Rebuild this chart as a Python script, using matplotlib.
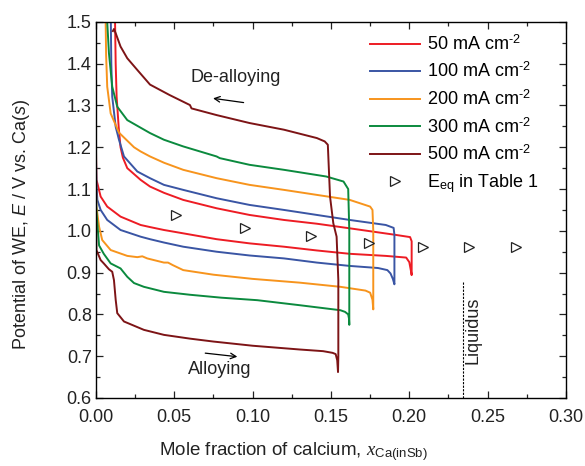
import matplotlib
matplotlib.use("Agg")
import matplotlib.pyplot as plt
from matplotlib.ticker import MultipleLocator

plt.rcParams['font.family'] = ['Liberation Sans', 'DejaVu Sans']
plt.rcParams['mathtext.fontset'] = 'custom'
plt.rcParams['mathtext.rm'] = 'Liberation Sans'
plt.rcParams['mathtext.sf'] = 'Liberation Sans:italic'
plt.rcParams['mathtext.it'] = 'Liberation Serif:italic'

# 50 mA cm-2 : alloying (left to right), then de-alloying (right to left)
x50_alloy = [0, 0.0003, 0.0009, 0.003, 0.0072, 0.0157, 0.0285, 0.0345, 0.0434, 0.0557, 0.077, 0.098, 0.120, 0.141, 0.162, 0.185, 0.198, 0.2, 0.201, 0.2015]
E50_alloy = [1.203, 1.122, 1.114, 1.082, 1.058, 1.034, 1.014, 1.009, 1.002, 0.994, 0.980, 0.970, 0.962, 0.953, 0.945, 0.940, 0.936, 0.925, 0.905, 0.894]
x50_dealloy = [0.2015, 0.2005, 0.190, 0.162, 0.141, 0.120, 0.098, 0.077, 0.0557, 0.0434, 0.0345, 0.0285, 0.020, 0.0172, 0.0157, 0.0145, 0.0132, 0.0126, 0.0122]
E50_dealloy = [0.975, 0.985, 0.991, 1.006, 1.017, 1.026, 1.038, 1.054, 1.074, 1.091, 1.106, 1.122, 1.150, 1.175, 1.20, 1.249, 1.321, 1.40, 1.50]

# 100 mA cm-2
x100_alloy = [0, 0.0003, 0.0009, 0.003, 0.0072, 0.0157, 0.0285, 0.0345, 0.0434, 0.0557, 0.077, 0.098, 0.120, 0.141, 0.162, 0.180, 0.186, 0.188, 0.1895, 0.1905]
E100_alloy = [1.178, 1.114, 1.074, 1.05, 1.026, 1.002, 0.986, 0.980, 0.972, 0.962, 0.950, 0.941, 0.934, 0.924, 0.916, 0.911, 0.906, 0.898, 0.885, 0.872]
x100_dealloy = [0.1905, 0.190, 0.185, 0.162, 0.141, 0.120, 0.098, 0.077, 0.0557, 0.0434, 0.0345, 0.0264, 0.0179, 0.0147, 0.0126, 0.0104, 0.0098, 0.0095]
E100_dealloy = [0.99, 1.007, 1.014, 1.026, 1.038, 1.050, 1.062, 1.078, 1.098, 1.11, 1.126, 1.142, 1.178, 1.218, 1.249, 1.321, 1.40, 1.50]

# 200 mA cm-2
x200_alloy = [0, 0.0003, 0.002, 0.004, 0.0094, 0.020, 0.0264, 0.0296, 0.0327, 0.0434, 0.046, 0.049, 0.0557, 0.075, 0.100, 0.130, 0.156, 0.172, 0.175, 0.1765, 0.177]
E200_alloy = [1.118, 1.058, 1.01, 0.978, 0.954, 0.940, 0.937, 0.939, 0.934, 0.924, 0.924, 0.918, 0.906, 0.895, 0.885, 0.876, 0.866, 0.857, 0.852, 0.835, 0.812]
x200_dealloy = [0.177, 0.1765, 0.175, 0.162, 0.141, 0.120, 0.098, 0.077, 0.0557, 0.0434, 0.0345, 0.0285, 0.0243, 0.0147, 0.0094, 0.0072, 0.0065, 0.0062]
E200_dealloy = [1.00, 1.05, 1.058, 1.074, 1.086, 1.098, 1.110, 1.126, 1.146, 1.163, 1.178, 1.190, 1.20, 1.235, 1.281, 1.345, 1.42, 1.50]

# 300 mA cm-2
x300_alloy = [0, 0.0003, 0.002, 0.005, 0.0094, 0.0157, 0.020, 0.0243, 0.0306, 0.0434, 0.060, 0.080, 0.103, 0.130, 0.156, 0.159, 0.161, 0.1615, 0.1617]
E300_alloy = [1.082, 1.046, 0.965, 0.945, 0.922, 0.910, 0.890, 0.875, 0.866, 0.854, 0.847, 0.840, 0.834, 0.822, 0.810, 0.806, 0.800, 0.790, 0.775]
x300_dealloy = [0.1617, 0.161, 0.160, 0.158, 0.147, 0.120, 0.098, 0.079, 0.077, 0.0557, 0.0434, 0.0345, 0.020, 0.0136, 0.0104, 0.0083, 0.0072]
E300_dealloy = [1.0, 1.10, 1.106, 1.118, 1.13, 1.146, 1.158, 1.174, 1.178, 1.202, 1.218, 1.234, 1.265, 1.297, 1.345, 1.425, 1.50]

# 500 mA cm-2
x500_alloy = [0, 0.0003, 0.003, 0.005, 0.0083, 0.0104, 0.0115, 0.0126, 0.0136, 0.0179, 0.0306, 0.0434, 0.060, 0.075, 0.100, 0.130, 0.145, 0.151, 0.153, 0.154, 0.1545]
E500_alloy = [1.046, 0.954, 0.930, 0.922, 0.908, 0.902, 0.882, 0.835, 0.803, 0.783, 0.763, 0.751, 0.742, 0.735, 0.725, 0.716, 0.712, 0.708, 0.705, 0.690, 0.662]
x500_dealloy = [0.1547, 0.1547, 0.1536, 0.1515, 0.1494, 0.148, 0.146, 0.141, 0.120, 0.098, 0.077, 0.061, 0.060, 0.047, 0.0345, 0.0264, 0.020, 0.0157, 0.0126, 0.0115, 0.0108]
E500_dealloy = [0.70, 0.882, 0.986, 1.018, 1.082, 1.206, 1.214, 1.222, 1.242, 1.258, 1.277, 1.293, 1.301, 1.325, 1.350, 1.385, 1.413, 1.441, 1.473, 1.483, 1.478]

# equilibrium potentials (Table 1)
x_eq = [0.051, 0.095, 0.137, 0.174, 0.209, 0.238, 0.268]
E_eq = [1.038, 1.007, 0.988, 0.971, 0.961, 0.961, 0.961]

x_liquidus = 0.234

series = [
    ('50 mA cm$^{\\text{-2}}$', '#ed1c24', x50_alloy, E50_alloy, x50_dealloy, E50_dealloy),
    ('100 mA cm$^{\\text{-2}}$', '#3a55a4', x100_alloy, E100_alloy, x100_dealloy, E100_dealloy),
    ('200 mA cm$^{\\text{-2}}$', '#f7941d', x200_alloy, E200_alloy, x200_dealloy, E200_dealloy),
    ('300 mA cm$^{\\text{-2}}$', '#0b8a3e', x300_alloy, E300_alloy, x300_dealloy, E300_dealloy),
    ('500 mA cm$^{\\text{-2}}$', '#7d1416', x500_alloy, E500_alloy, x500_dealloy, E500_dealloy),
]

fig = plt.figure(figsize=(5.85, 4.66), dpi=100)
ax = fig.add_axes([0.164, 0.146, 0.8035, 0.807])

for lab, col, xa, ea, xd, ed in series:
    ax.plot(xa + xd, ea + ed, color=col, lw=1.4, label=lab)

ax.plot(x_eq, E_eq, linestyle='none', marker='>', markersize=7,
        markerfacecolor='white', markeredgecolor='#222222', markeredgewidth=0.9,
        label='E$_{\\mathrm{eq}}$ in Table 1')

ax.plot([x_liquidus, x_liquidus], [0.6, 0.878], color='black', lw=0.8, linestyle=(0, (2, 1.2)))
ax.text(0.2405, 0.763, 'Liquidus', rotation=90, ha='center', va='center', fontsize=13, color='#222222')

ax.text(0.089, 1.366, 'De-alloying', ha='center', va='center', fontsize=13, color='#222222')
ax.annotate('', xy=(0.073, 1.318), xytext=(0.096, 1.306),
            arrowprops=dict(arrowstyle='->', color='black', lw=0.9))
ax.text(0.079, 0.667, 'Alloying', ha='center', va='center', fontsize=13, color='#222222')
ax.annotate('', xy=(0.092, 0.698), xytext=(0.068, 0.708),
            arrowprops=dict(arrowstyle='->', color='black', lw=0.9))

ax.set_xlim(0, 0.30)
ax.set_ylim(0.6, 1.5)
ax.xaxis.set_major_locator(MultipleLocator(0.05))
ax.xaxis.set_minor_locator(MultipleLocator(0.025))
ax.yaxis.set_major_locator(MultipleLocator(0.1))
ax.yaxis.set_minor_locator(MultipleLocator(0.05))
ax.set_xticklabels([f'{v:.2f}' for v in ax.get_xticks()])
ax.set_yticklabels([f'{v:.1f}' for v in ax.get_yticks()])
ax.tick_params(which='both', direction='in', top=True, right=True, labelsize=13, colors='#222222')
ax.tick_params(axis='y', pad=3)
ax.tick_params(axis='x', pad=8)
ax.tick_params(which='major', length=5, width=0.9)
ax.tick_params(which='minor', length=3, width=0.9)
for s in ax.spines.values():
    s.set_linewidth(1.0)

ax.set_xlabel('Mole fraction of calcium, $x_{\\mathrm{Ca(inSb)}}$', fontsize=13.5, color='#222222')
ax.set_ylabel('Potential of WE, $\\mathsf{E}$ / V vs. Ca($\\mathsf{s}$)', fontsize=13, color='#222222')
ax.xaxis.set_label_coords(0.419, -0.112)
ax.yaxis.set_label_coords(-0.135, 0.46)

ax.legend(loc='upper right', bbox_to_anchor=(0.97, 1.0), frameon=False, fontsize=13,
          handlelength=2.8, labelspacing=0.45, handletextpad=0.4, borderaxespad=0.3)

fig.savefig('out.png', dpi=100)
